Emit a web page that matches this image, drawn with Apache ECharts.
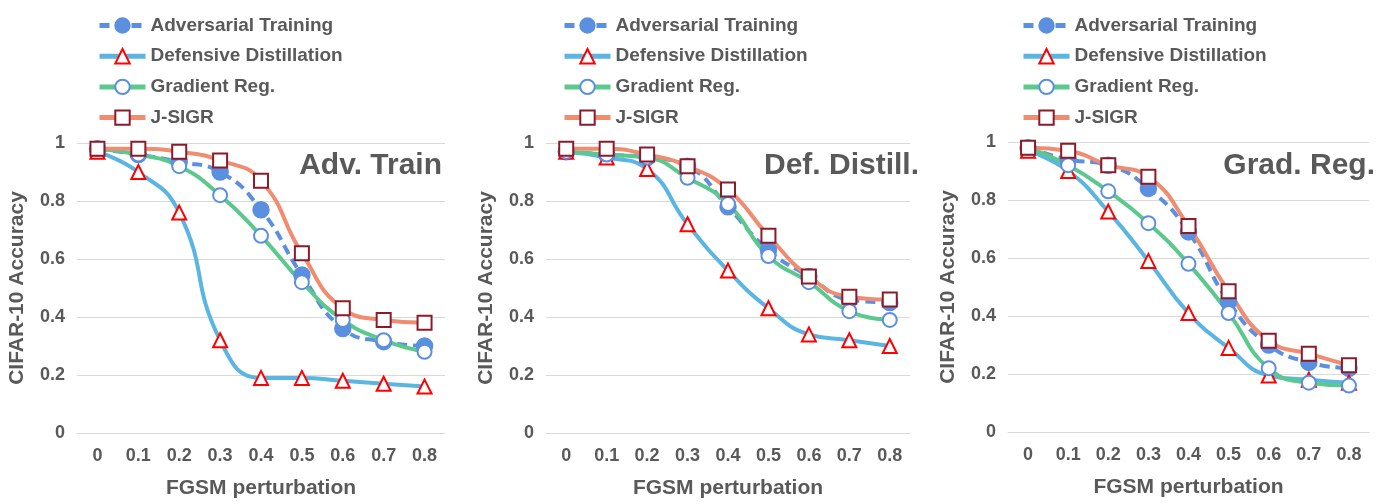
<!DOCTYPE html>
<html>
<head>
<meta charset="utf-8">
<script src="https://cdn.jsdelivr.net/npm/echarts@6/dist/echarts.min.js"></script>
<style>
    html, body { margin: 0; padding: 0; background: #fff; }
    #chart { width: 1380px; height: 504px; }
</style>
</head>
<body>
<div id="chart"></div>
<script>
var categories = ["0", "0.1", "0.2", "0.3", "0.4", "0.5", "0.6", "0.7", "0.8"];
var seriesNames = ["Adversarial Training", "Defensive Distillation", "Gradient Reg.", "J-SIGR"];
var panelTitles = ["Adv. Train", "Def. Distill.", "Grad. Reg."];

// panel 1: attacks crafted on the adversarially trained model
var advTrainAdv = [0.98, 0.96, 0.935, 0.90, 0.77, 0.545, 0.36, 0.315, 0.30];
var advTrainDef = [0.97, 0.90, 0.76, 0.32, 0.19, 0.19, 0.18, 0.17, 0.16];
var advTrainGrad = [0.98, 0.96, 0.92, 0.82, 0.68, 0.52, 0.39, 0.32, 0.28];
var advTrainJsigr = [0.98, 0.98, 0.97, 0.94, 0.87, 0.62, 0.43, 0.39, 0.38];

// panel 2: defensive distillation
var defDistAdv = [0.97, 0.96, 0.95, 0.92, 0.78, 0.63, 0.54, 0.46, 0.45];
var defDistDef = [0.97, 0.95, 0.91, 0.72, 0.56, 0.43, 0.34, 0.32, 0.30];
var defDistGrad = [0.97, 0.96, 0.95, 0.88, 0.79, 0.61, 0.52, 0.42, 0.39];
var defDistJsigr = [0.98, 0.98, 0.96, 0.92, 0.84, 0.68, 0.54, 0.47, 0.46];

// panel 3: gradient regularization
var gradRegAdv = [0.98, 0.94, 0.92, 0.84, 0.69, 0.45, 0.30, 0.24, 0.22];
var gradRegDef = [0.97, 0.90, 0.76, 0.59, 0.41, 0.29, 0.195, 0.18, 0.17];
var gradRegGrad = [0.98, 0.92, 0.83, 0.72, 0.58, 0.41, 0.22, 0.17, 0.16];
var gradRegJsigr = [0.98, 0.97, 0.92, 0.88, 0.71, 0.485, 0.315, 0.27, 0.23];

var panelData = [
    [advTrainAdv, advTrainDef, advTrainGrad, advTrainJsigr],
    [defDistAdv, defDistDef, defDistGrad, defDistJsigr],
    [gradRegAdv, gradRegDef, gradRegGrad, gradRegJsigr]
];

var textColor = "#595959";
var font = "Liberation Sans, Arial, sans-serif";

var grids = [
    { left: 77, width: 368, top: 143, height: 290 },
    { left: 546, width: 364, top: 143, height: 290 },
    { left: 1008, width: 361, top: 142, height: 290 }
];
var legendLeft = [97, 562, 1021];
var titleRight = [938, 461, 5];

// look of each series: line colour, dash, marker
var looks = [
    { line: "#5b8fe0", dash: [10, 6], symbol: "circle", mark: "#5b8fe0", size: 15 },
    { line: "#5ab5e3", dash: "solid", symbol: "emptyTriangle", mark: "#ff0000", size: 14 },
    { line: "#5cc98c", dash: "solid", symbol: "emptyCircle", mark: "#5b8fe0", size: 14 },
    { line: "#f08c70", dash: "solid", symbol: "emptyRect", mark: "#8b1a2b", size: 14 }
];

var xAxes = [], yAxes = [], series = [], legends = [], titles = [];

grids.forEach(function (g, i) {
    xAxes.push({
        type: "category",
        gridIndex: i,
        data: categories,
        boundaryGap: true,
        axisLine: { lineStyle: { color: "#d9d9d9" } },
        axisTick: { show: false },
        axisLabel: { margin: 14, color: textColor, fontSize: 18, fontWeight: "bold", fontFamily: font },
        name: "FGSM perturbation",
        nameLocation: "middle",
        nameGap: 45,
        nameTextStyle: { color: textColor, fontSize: 21, fontWeight: "bold", fontFamily: font }
    });
    yAxes.push({
        type: "value",
        gridIndex: i,
        min: 0,
        max: 1,
        interval: 0.2,
        axisLine: { show: false },
        axisTick: { show: false },
        splitLine: { lineStyle: { color: "#d9d9d9", width: 1 } },
        axisLabel: { margin: 12, color: textColor, fontSize: 18, fontWeight: "bold", fontFamily: font },
        name: "CIFAR-10 Accuracy",
        nameLocation: "middle",
        nameRotate: 90,
        nameGap: 49,
        nameTextStyle: { color: textColor, fontSize: 21, fontWeight: "bold", fontFamily: font }
    });
    legends.push({
        orient: "vertical",
        left: legendLeft[i],
        top: 16,
        padding: 0,
        itemWidth: 46,
        itemHeight: 18,
        itemGap: 11.7,
        data: seriesNames,
        lineStyle: { width: 5 },
        textStyle: { color: textColor, fontSize: 19, fontWeight: "bold", fontFamily: font, lineHeight: 17 }
    });
    titles.push({
        text: panelTitles[i],
        right: titleRight[i],
        top: 151,
        padding: 0,
        textStyle: { color: textColor, fontSize: 30, fontWeight: "bold", fontFamily: font }
    });
    panelData[i].forEach(function (vals, k) {
        var lk = looks[k];
        series.push({
            name: seriesNames[k],
            type: "line",
            xAxisIndex: i,
            yAxisIndex: i,
            data: vals,
            smooth: 0.5,
            symbol: lk.symbol,
            symbolSize: lk.size,
            showAllSymbol: true,
            lineStyle: { color: lk.line, width: 4, type: lk.dash },
            itemStyle: { color: lk.mark, borderColor: lk.mark, borderWidth: 2.5 },
            emphasis: { disabled: true },
            animation: false
        });
    });
});

var chart = echarts.init(document.getElementById("chart"));
chart.setOption({
    backgroundColor: "#fff",
    animation: false,
    title: titles,
    legend: legends,
    grid: grids,
    xAxis: xAxes,
    yAxis: yAxes,
    series: series
});
</script>
</body>
</html>
